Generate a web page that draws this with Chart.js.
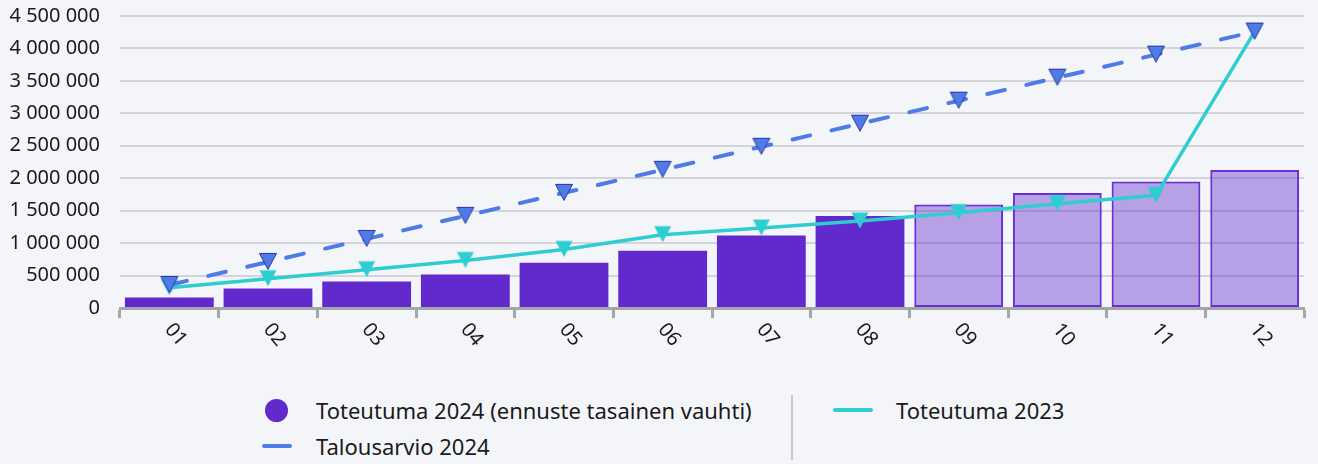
<!DOCTYPE html>
<html><head><meta charset="utf-8">
<script src="https://cdn.jsdelivr.net/npm/chart.js@4.4.1/dist/chart.umd.min.js"></script>
<style>
html,body{margin:0;padding:0;background:#F4F5F9;width:1318px;height:464px;overflow:hidden;font-family:"Noto Sans",sans-serif;color:#1a1a1a}
#wrap{position:absolute;left:0;top:-16px;width:1318px;height:396px}
.lt{position:absolute;font-size:22px;line-height:24px;white-space:nowrap;color:#1a1a1a}
.mk{position:absolute}
</style></head><body>
<div id="wrap"><canvas id="c" width="1318" height="396"></canvas></div>
<div id="legend"></div>
<script>
// ---- data ----
const months = ['01','02','03','04','05','06','07','08','09','10','11','12'];
const toteutuma2024 = [162000, 301000, 409000, 517000, 698000, 883000, 1119000, 1417000, 1594000, 1771000, 1948000, 2125000];
const isForecast = [false,false,false,false,false,false,false,false,true,true,true,true];
const talousarvio2024 = [355000, 710000, 1065000, 1420000, 1775000, 2130000, 2485000, 2840000, 3195000, 3550000, 3905000, 4260000];
const toteutuma2023 = [312000, 451000, 590000, 733000, 903000, 1130000, 1232000, 1340000, 1469000, 1608000, 1736000, 4260000];
const seriesNames = ['Toteutuma 2024 (ennuste tasainen vauhti)', 'Talousarvio 2024', 'Toteutuma 2023'];
const yMax = 4500000, yStep = 500000;

const PURPLE = '#6229CC', PURPLE_LIGHT = 'rgba(98,41,204,0.41)', PURPLE_EDGE = '#6A2FD4';
const BLUE = '#4F7BE6', BLUE_EDGE = '#2A36A6', TEAL = '#2ECDD1';

const fmt = v => String(v).replace(/\B(?=(\d{3})+(?!\d))/g, ' ');

function triangleMarker(fill, stroke) {
  const c = document.createElement('canvas');
  c.width = 20; c.height = 20;
  const g = c.getContext('2d');
  g.beginPath();
  g.moveTo(1.5, 1.5); g.lineTo(18.5, 1.5); g.lineTo(10, 17.5); g.closePath();
  g.fillStyle = fill; g.fill();
  if (stroke) { g.strokeStyle = stroke; g.lineWidth = 1; g.lineJoin = 'miter'; g.stroke(); }
  return c;
}

const rotX = {
  id: 'rotX',
  afterDraw(chart) {
    const xs = chart.scales.x, ctx = chart.ctx;
    ctx.save();
    ctx.font = '20px "Noto Sans"';
    ctx.fillStyle = '#1a1a1a';
    ctx.textAlign = 'left';
    ctx.textBaseline = 'middle';
    months.forEach((m, i) => {
      const x = xs.getPixelForValue(i);
      ctx.save();
      ctx.translate(x - 1, xs.top + 18);
      ctx.rotate(50 * Math.PI / 180);
      ctx.fillText(m, 0, 0);
      ctx.restore();
    });
    ctx.restore();
  }
};

new Chart(document.getElementById('c'), {
  data: {
    labels: months,
    datasets: [
      { type: 'line', label: seriesNames[1], data: talousarvio2024, order: 1,
        borderColor: BLUE, borderWidth: 4, borderDash: [18, 22], borderCapStyle: 'round', tension: 0,
        pointStyle: triangleMarker(BLUE, BLUE_EDGE), pointRadius: 10 },
      { type: 'line', label: seriesNames[2], data: toteutuma2023, order: 2,
        borderColor: TEAL, borderWidth: 3.5, tension: 0,
        pointStyle: triangleMarker(TEAL, null), pointRadius: 10 },
      { type: 'bar', label: seriesNames[0], data: toteutuma2024, order: 3,
        backgroundColor: isForecast.map(f => f ? PURPLE_LIGHT : PURPLE),
        borderColor: isForecast.map(f => f ? PURPLE_EDGE : PURPLE),
        borderWidth: isForecast.map(f => f ? 2 : 0),
        borderSkipped: false,
        categoryPercentage: 0.9, barPercentage: 1.0 }
    ]
  },
  options: {
    responsive: false, animation: false,
    layout: { padding: { top: 2, right: 12, left: 0, bottom: 0 } },
    plugins: { legend: { display: false }, tooltip: { enabled: false } },
    scales: {
      x: {
        type: 'category', offset: true,
        grid: { offset: true, drawOnChartArea: false, drawTicks: true, tickLength: 10, tickWidth: 3, tickColor: '#A3A6AB' },
        border: { display: true, color: '#A3A6AB', width: 3 },
        ticks: { display: false },
        afterFit: s => { s.height = 72; }
      },
      y: {
        min: 0, max: yMax,
        ticks: { stepSize: yStep, callback: v => fmt(v), font: { family: 'Noto Sans', size: 20 }, color: '#1a1a1a', padding: 20 },
        grid: { color: '#D3D4D9', lineWidth: 2, drawTicks: false },
        border: { display: false },
        afterFit: s => { s.width = 120; }
      }
    }
  },
  plugins: [rotX]
});

// ---- legend ----
const lg = document.getElementById('legend');
lg.innerHTML =
  `<div class="mk" style="left:265px;top:399px;width:23px;height:23px;border-radius:50%;background:${PURPLE}"></div>
   <div class="lt" style="left:316px;top:398px">${seriesNames[0]}</div>
   <div class="mk" style="left:262px;top:444px;width:30px;height:4px;border-radius:2px;background:${BLUE}"></div>
   <div class="lt" style="left:316px;top:434px">${seriesNames[1]}</div>
   <div class="mk" style="left:791px;top:395px;width:2px;height:65px;background:#C9C9CC"></div>
   <div class="mk" style="left:833px;top:408px;width:40px;height:4px;border-radius:2px;background:${TEAL}"></div>
   <div class="lt" style="left:896px;top:398px">${seriesNames[2]}</div>`;
</script>
</body></html>
